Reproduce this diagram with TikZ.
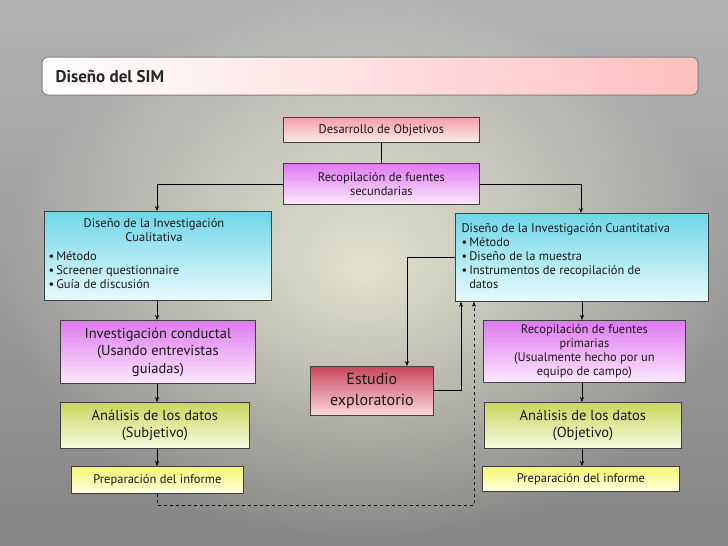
\documentclass[tikz,border=0pt]{standalone}
\usepackage{fontspec}
\setmainfont{PT Sans}
\usetikzlibrary{arrows.meta}
\definecolor{cyt}{RGB}{110,214,232}
\definecolor{cyb}{RGB}{232,250,252}
\definecolor{mgt}{RGB}{222,120,240}
\definecolor{mgb}{RGB}{252,232,252}
\definecolor{grt}{RGB}{200,214,90}
\definecolor{grb}{RGB}{246,250,226}
\definecolor{ylt}{RGB}{246,246,110}
\definecolor{ylb}{RGB}{255,255,225}
\definecolor{rdt}{RGB}{200,70,90}
\definecolor{rdb}{RGB}{250,215,220}
\definecolor{pkt}{RGB}{245,160,165}
\definecolor{pkb}{RGB}{252,232,232}
\begin{document}
\begin{tikzpicture}[x=1pt,y=-1pt,
  bx/.style={draw=black!75,line width=0.8pt,inner sep=0pt},
  lbl/.style={align=center,font=\fontsize{12.5}{14}\selectfont,text=black!90},
  big/.style={lbl,font=\fontsize{14.5}{17.5}\selectfont},
  arr/.style={-{Stealth[length=5pt,width=4pt]},line width=0.6pt},
  dl/.style={arr,dashed}]
\useasboundingbox (0,0) rectangle (728,546);
\shade[inner color=white!85!yellow,outer color=black!50] (0,0) rectangle (728,546);
\shade[top color=black!5,bottom color=black!45,opacity=0.45] (0,0) rectangle (728,546);
\shade[rounded corners=6pt,draw=black!50,line width=1pt,left color=white,right color=red!25] (42,57) rectangle (698,95);
\node[anchor=west,font=\fontsize{17}{20}\selectfont\bfseries,text=black!85] (title) at (52,76) {Diseño del SIM};
\newcommand\bbox[7]{%
  \shade[top color=#6,bottom color=#7,draw=black!75,line width=0.8pt] (#2,#3) rectangle (#4,#5);
  \node[bx,draw=none,minimum width=#4-#2,minimum height=#5-#3,anchor=north west] (#1) at (#2,#3) {};}
\bbox{des}{283}{117}{479}{142}{pkt}{pkb}
\bbox{rec}{283}{163}{479}{204}{mgt}{mgb}
\bbox{cual}{44}{211}{271}{300}{cyt}{cyb}
\bbox{cuan}{455}{213}{708}{301}{cyt}{cyb}
\bbox{cond}{60}{320}{255}{383}{mgt}{mgb}
\bbox{prim}{483}{320}{685}{382}{mgt}{mgb}
\bbox{est}{310}{366}{433}{415}{rdt}{rdb}
\bbox{anl}{60}{402}{249}{448}{grt}{grb}
\bbox{anr}{484}{402}{681}{448}{grt}{grb}
\bbox{prl}{71}{466}{243}{493}{ylt}{ylb}
\bbox{prr}{482}{466}{679}{491}{ylt}{ylb}
\node[lbl] at (des.center) {Desarrollo de Objetivos};
\node[lbl] at (rec.center) {Recopilación de fuentes\\secundarias};
\node[lbl] at (154,230) {Diseño de la Investigación\\Cualitativa};
\node[lbl,align=left,anchor=north west] at (45,248) {•\,Método\\•\,Screener questionnaire\\•\,Guía de discusión};
\node[lbl,align=left,anchor=north west] at (458,220) {Diseño de la Investigación Cuantitativa\\•\,Método\\•\,Diseño de la muestra\\•\,Instrumentos de recopilación de\\\phantom{•\,}datos};
\node[big] at (cond.center) {Investigación conductal\\(Usando entrevistas\\guiadas)};
\node[lbl] at (prim.center) {Recopilación de fuentes\\primarias\\(Usualmente hecho por un\\equipo de campo)};
\node[lbl,font=\fontsize{16}{21}\selectfont] at (est.center) {Estudio\\exploratorio};
\node[big] at (anl.center) {Análisis de los datos\\(Subjetivo)};
\node[big] at (anr.center) {Análisis de los datos\\(Objetivo)};
\node[lbl] at (prl.center) {Preparación del informe};
\node[lbl] at (prr.center) {Preparación del informe};
\draw[line width=0.6pt] (des.south) -- (rec.north);
\draw[arr] (rec.west) -| (cual.north -| 157,0);
\draw[arr] (rec.east) -| (cuan.north -| 581,0);
\draw[arr] (cual.south -| 157,0) -- (cond.north -| 157,0);
\draw[arr] (cond.south -| 157,0) -- (anl.north -| 157,0);
\draw[arr] (anl.south -| 157,0) -- (prl.north -| 157,0);
\draw[arr] (cuan.south -| 582,0) -- (prim.north -| 582,0);
\draw[arr] (prim.south -| 582,0) -- (anr.north -| 582,0);
\draw[arr] (anr.south -| 582,0) -- (prr.north -| 582,0);
\draw[arr] (cuan.west |- 0,257) -| (est.north -| 407,0);
\draw[arr] (est.east |- 0,390) -| (cuan.south -| 461,0);
\draw[dl] (prl.south -| 157,0) -- (157,505) -| (cuan.south -| 474,0);
\end{tikzpicture}
\end{document}
